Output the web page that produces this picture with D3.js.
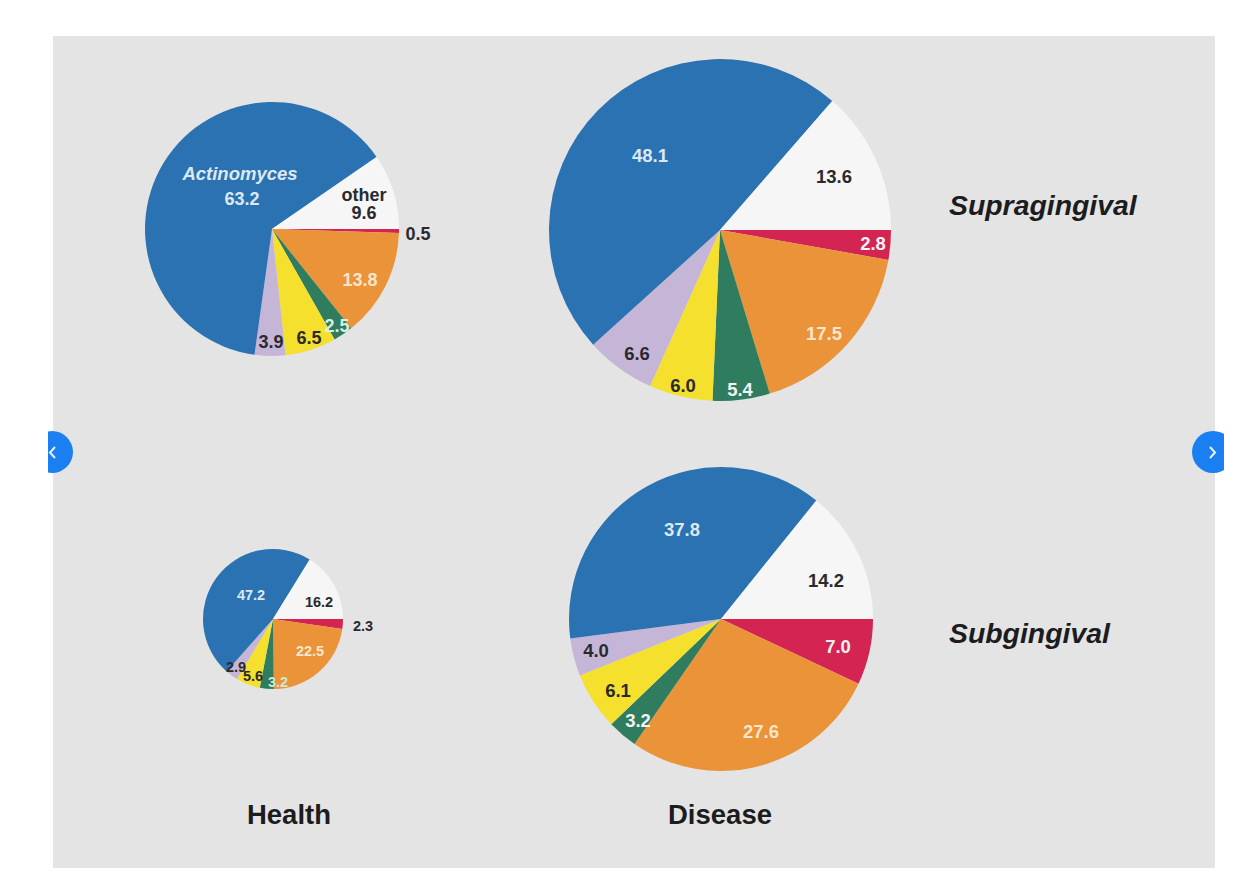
<!DOCTYPE html>
<html>
<head>
<meta charset="utf-8">
<script src="https://cdn.jsdelivr.net/npm/d3@7/dist/d3.min.js"></script>
<style>
html,body{margin:0;padding:0;background:#fff;overflow:hidden}
svg{display:block}
text{font-family:"Liberation Sans",Arial,sans-serif;font-weight:700}
</style>
</head>
<body>
<svg id="chart" width="1244" height="878"></svg>
<script>
// Slice order runs clockwise from the 3 o'clock position.
const categories = ["red", "orange", "green", "yellow", "lavender", "Actinomyces", "other"];
const healthSupra = [0.5, 13.8, 2.5, 6.5, 3.9, 63.2, 9.6];
const diseaseSupra = [2.8, 17.5, 5.4, 6.0, 6.6, 48.1, 13.6];
const healthSub = [2.3, 22.5, 3.2, 5.6, 2.9, 47.2, 16.2];
const diseaseSub = [7.0, 27.6, 3.2, 6.1, 4.0, 37.8, 14.2];
const columnLabels = ["Health", "Disease"];
const rowLabels = ["Supragingival", "Subgingival"];

const sliceColor = d3.scaleOrdinal()
  .domain(categories)
  .range(["#d42452", "#eb9339", "#2f7c5e", "#f5e02e", "#c5b6d8", "#2a72b1", "#f6f6f7"]);

const DARK = "#2a2a2e", LIGHT = "#f3f3f3";

// Layout of each pie: centre, radius, label size, and each label's offset from the centre.
const pies = [
  { values: healthSupra, cx: 272, cy: 229, r: 127, font: 18,
    offsets: [[146, 5], [88, 51], [65, 97], [37, 109], [-1, 113], [-30, -30], [92, -16]],
    tones: [DARK, "#fbe6cc", "#d5efe0", DARK, DARK, "#dde8f3", DARK] },
  { values: diseaseSupra, cx: 720, cy: 230, r: 171, font: 18.5,
    offsets: [[153, 13], [104, 103], [20, 159], [-37, 155], [-83, 123], [-70, -75], [114, -54]],
    tones: [LIGHT, "#fbe6cc", LIGHT, DARK, DARK, "#dde8f3", DARK] },
  { values: healthSub, cx: 273, cy: 619, r: 70, font: 14.5,
    offsets: [[90, 7], [37, 32], [5, 63], [-20, 57], [-37, 48], [-22, -24], [46, -17]],
    tones: [DARK, "#fbe6cc", "#cfe8d8", DARK, DARK, "#dde8f3", DARK] },
  { values: diseaseSub, cx: 721, cy: 619, r: 152, font: 18.5,
    offsets: [[117, 27], [40, 112], [-83, 101], [-103, 71], [-125, 31], [-39, -90], [105, -39]],
    tones: [LIGHT, "#fbe6cc", LIGHT, DARK, DARK, "#dde8f3", DARK] }
];

const svg = d3.select("#chart");

// Grey backdrop panel
svg.append("rect")
  .attr("x", 53).attr("y", 36)
  .attr("width", 1162).attr("height", 832)
  .attr("fill", "#e4e4e4");

const pie = d3.pie().sort(null)
  .startAngle(Math.PI / 2)
  .endAngle(Math.PI / 2 + 2 * Math.PI);

pies.forEach(p => {
  const arc = d3.arc().innerRadius(0).outerRadius(p.r);
  const g = svg.append("g").attr("transform", `translate(${p.cx},${p.cy})`);
  const slices = pie(p.values);

  g.selectAll("path")
    .data(slices)
    .join("path")
    .attr("d", arc)
    .attr("fill", (d, i) => sliceColor(categories[i]));

  g.selectAll("text.value")
    .data(slices)
    .join("text")
    .attr("class", "value")
    .attr("x", (d, i) => p.offsets[i][0])
    .attr("y", (d, i) => p.offsets[i][1])
    .attr("dy", "0.36em")
    .attr("text-anchor", "middle")
    .attr("font-size", p.font)
    .attr("fill", (d, i) => p.tones[i])
    .text(d => d.value.toFixed(1));
});

// Names above the two values in the first pie
const firstPie = pies[0];
svg.append("text")
  .attr("x", firstPie.cx - 32).attr("y", firstPie.cy - 56)
  .attr("dy", "0.36em").attr("text-anchor", "middle")
  .attr("font-size", 18.5).attr("font-style", "italic").attr("fill", "#dde8f3")
  .text(categories[5]);
svg.append("text")
  .attr("x", firstPie.cx + 92).attr("y", firstPie.cy - 34)
  .attr("dy", "0.36em").attr("text-anchor", "middle")
  .attr("font-size", 18).attr("fill", DARK)
  .text(categories[6]);

// Column captions
svg.selectAll("text.column")
  .data(columnLabels)
  .join("text")
  .attr("class", "column")
  .attr("x", (d, i) => [289, 720][i])
  .attr("y", 814)
  .attr("dy", "0.36em")
  .attr("text-anchor", "middle")
  .attr("font-size", 27.5)
  .attr("fill", "#1c1c1e")
  .text(d => d);

// Row captions
svg.selectAll("text.row")
  .data(rowLabels)
  .join("text")
  .attr("class", "row")
  .attr("x", 949)
  .attr("y", (d, i) => [205, 633][i])
  .attr("dy", "0.36em")
  .attr("font-size", 28.4)
  .attr("font-style", "italic")
  .attr("fill", "#1c1c1e")
  .text(d => d);

// Carousel arrows, cut off at the edges of the frame
const defs = svg.append("defs");
defs.append("clipPath").attr("id", "frame")
  .append("rect").attr("x", 48).attr("y", 0).attr("width", 1176).attr("height", 878);
const nav = svg.append("g").attr("clip-path", "url(#frame)");
[{ cx: 52, dir: -1 }, { cx: 1213, dir: 1 }].forEach(b => {
  nav.append("circle")
    .attr("cx", b.cx).attr("cy", 452).attr("r", 21)
    .attr("fill", "#1a7ff0");
  nav.append("path")
    .attr("d", `M${b.cx - b.dir * 3},447 L${b.cx + b.dir * 2},452.5 L${b.cx - b.dir * 3},458`)
    .attr("fill", "none")
    .attr("stroke", "#e6f1ff")
    .attr("stroke-width", 2);
});
</script>
</body>
</html>
